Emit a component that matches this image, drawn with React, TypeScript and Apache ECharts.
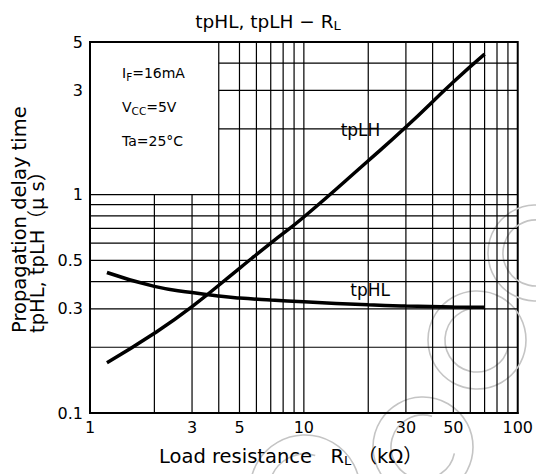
import React, { useEffect, useRef } from "react";
import * as echarts from "echarts";

// ---- data ----
const xMin = 1;
const xMax = 100;
const yMin = 0.1;
const yMax = 5;
const xTickLabels = [1, 3, 5, 10, 30, 50, 100];
const yTickLabels = [0.1, 0.3, 0.5, 1, 3, 5];
const xGridValues = [2, 3, 4, 5, 6, 7, 8, 9, 10, 20, 30, 40, 50, 60, 70, 80, 90];
const yGridValues = [0.2, 0.3, 0.4, 0.5, 0.6, 0.7, 0.8, 0.9, 1, 2, 3, 4];
const boxCornerX = 4;
const boxCornerY = 1;

const rlLH = [1.2, 2, 3, 5, 7, 10, 20, 30, 50, 70];
const tpLH = [0.17, 0.232, 0.307, 0.46, 0.6, 0.79, 1.43, 2.04, 3.28, 4.4];
const rlHL = [1.2, 2, 3, 4, 5, 7, 10, 20, 30, 50, 70];
const tpHL = [0.44, 0.38, 0.356, 0.343, 0.336, 0.329, 0.323, 0.313, 0.309, 0.306, 0.305];

const curveLabels = [
  { name: "tpLH", x: 18.4, y: 1.97 },
  { name: "tpHL", x: 20.4, y: 0.366 },
];

const FONT = "'DejaVu Sans', 'Noto Sans CJK JP', sans-serif";

export default function App() {
  const ref = useRef<HTMLDivElement>(null);

  useEffect(() => {
    if (!ref.current) return;
    const chart = echarts.init(ref.current, undefined, { renderer: "svg" });

    const segments: number[][] = [];
    xGridValues.forEach((x) => {
      if (x < boxCornerX) segments.push([x, yMin, x, boxCornerY]);
      else segments.push([x, yMin, x, yMax]);
    });
    yGridValues.forEach((y) => {
      if (y > boxCornerY) segments.push([boxCornerX, y, xMax, y]);
      else segments.push([xMin, y, xMax, y]);
    });

    const sub = { fontSize: 10.5, fontFamily: FONT, padding: [7, 0, 0, 0] };
    const wm = { fill: "none", stroke: "#c4c4c4", lineWidth: 1.6 };

    chart.setOption({
      animation: false,
      backgroundColor: "#fff",
      grid: {
        left: 90,
        right: 14,
        top: 42,
        bottom: 61,
        show: true,
        borderColor: "#000",
        borderWidth: 2,
        backgroundColor: "transparent",
      },
      xAxis: {
        type: "log",
        logBase: 10,
        min: xMin,
        max: xMax,
        axisLine: { show: true, lineStyle: { color: "#000", width: 2 } },
        axisTick: { show: false },
        splitLine: { show: false },
        axisLabel: {
          customValues: xTickLabels,
          color: "#000",
          fontSize: 16,
          fontFamily: FONT,
          margin: 6,
          formatter: (v: number) => String(v),
        },
      },
      yAxis: {
        type: "log",
        logBase: 10,
        min: yMin,
        max: yMax,
        axisLine: { show: true, lineStyle: { color: "#000", width: 2 } },
        axisTick: { show: false },
        splitLine: { show: false },
        axisLabel: {
          customValues: yTickLabels,
          color: "#000",
          fontSize: 16,
          fontFamily: FONT,
          margin: 7,
          formatter: (v: number) => String(v),
        },
      },
      series: [
        {
          type: "custom",
          coordinateSystem: "cartesian2d",
          silent: true,
          encode: { x: [0, 2], y: [1, 3] },
          data: segments,
          renderItem: (params: any, api: any) => {
            const p1 = api.coord([api.value(0), api.value(1)]);
            const p2 = api.coord([api.value(2), api.value(3)]);
            return {
              type: "line",
              shape: { x1: p1[0], y1: p1[1], x2: p2[0], y2: p2[1] },
              style: { stroke: "#000", lineWidth: 1.2 },
            };
          },
          z: 1,
        },
        {
          name: "tpLH",
          type: "line",
          data: rlLH.map((x, i) => [x, tpLH[i]]),
          showSymbol: false,
          smooth: true,
          lineStyle: { color: "#000", width: 3.5 },
          z: 3,
        },
        {
          name: "tpHL",
          type: "line",
          data: rlHL.map((x, i) => [x, tpHL[i]]),
          showSymbol: false,
          smooth: true,
          lineStyle: { color: "#000", width: 3.5 },
          z: 3,
        },
        {
          type: "custom",
          coordinateSystem: "cartesian2d",
          silent: true,
          data: curveLabels.map((c) => [c.x, c.y]),
          renderItem: (params: any, api: any) => {
            const p = api.coord([api.value(0), api.value(1)]);
            return {
              type: "text",
              x: p[0],
              y: p[1],
              style: {
                text: curveLabels[params.dataIndex].name,
                fontSize: 17,
                fontFamily: FONT,
                fill: "#000",
                align: "center",
                verticalAlign: "middle",
              },
            };
          },
          z: 4,
        },
      ],
      graphic: [
        { type: "circle", shape: { cx: 477, cy: 340, r: 49 }, style: wm, silent: true, z: 0 },
        { type: "arc", shape: { cx: 477, cy: 340, r: 32, startAngle: 0.2, endAngle: 5.0 }, style: wm, silent: true, z: 0 },
        { type: "circle", shape: { cx: 536, cy: 253, r: 48 }, style: wm, silent: true, z: 0 },
        { type: "arc", shape: { cx: 536, cy: 253, r: 33, startAngle: 0.2, endAngle: 5.0 }, style: wm, silent: true, z: 0 },
        { type: "circle", shape: { cx: 423, cy: 447, r: 50 }, style: wm, silent: true, z: 0 },
        { type: "arc", shape: { cx: 423, cy: 447, r: 32, startAngle: 0.2, endAngle: 5.0 }, style: wm, silent: true, z: 0 },
        { type: "circle", shape: { cx: 305, cy: 490, r: 55 }, style: wm, silent: true, z: 0 },
        { type: "arc", shape: { cx: 305, cy: 490, r: 36, startAngle: 0.2, endAngle: 5.0 }, style: wm, silent: true, z: 0 },
        {
          type: "text",
          x: 268,
          y: 21,
          style: {
            text: "tpHL, tpLH − R{s|L}",
            rich: { s: { ...sub, fontSize: 13, padding: [8, 0, 0, 0] } },
            fontSize: 18.5,
            fontFamily: FONT,
            fill: "#000",
            align: "center",
            verticalAlign: "middle",
          },
          z: 10,
        },
        {
          type: "text",
          x: 122,
          y: 73,
          style: {
            text: "I{s|F}=16mA",
            rich: { s: sub },
            fontSize: 14,
            fontFamily: FONT,
            fill: "#000",
            verticalAlign: "middle",
          },
          z: 10,
        },
        {
          type: "text",
          x: 122,
          y: 107,
          style: {
            text: "V{s|CC}=5V",
            rich: { s: sub },
            fontSize: 14,
            fontFamily: FONT,
            fill: "#000",
            verticalAlign: "middle",
          },
          z: 10,
        },
        {
          type: "text",
          x: 122,
          y: 141,
          style: {
            text: "Ta=25°C",
            fontSize: 14,
            fontFamily: FONT,
            fill: "#000",
            verticalAlign: "middle",
          },
          z: 10,
        },
        {
          type: "text",
          x: 159,
          y: 456,
          style: {
            text: "Load resistance   R{s|L} （kΩ）",
            rich: { s: { ...sub, fontSize: 13, padding: [8, 0, 0, 0] } },
            fontSize: 19.5,
            fontFamily: FONT,
            fill: "#000",
            verticalAlign: "middle",
          },
          z: 10,
        },
        {
          type: "text",
          x: 19,
          y: 333,
          rotation: Math.PI / 2,
          style: {
            text: "Propagation delay time",
            fontSize: 19.5,
            fontFamily: FONT,
            fill: "#000",
            align: "left",
            verticalAlign: "middle",
          },
          z: 10,
        },
        {
          type: "text",
          x: 37,
          y: 333,
          rotation: Math.PI / 2,
          style: {
            text: "tpHL, tpLH（μ s）",
            fontSize: 19.5,
            fontFamily: FONT,
            fill: "#000",
            align: "left",
            verticalAlign: "middle",
          },
          z: 10,
        },
      ],
    });

    return () => chart.dispose();
  }, []);

  return (
    <div
      ref={ref}
      style={{ position: "absolute", left: 0, top: 0, width: 536, height: 474 }}
    />
  );
}
